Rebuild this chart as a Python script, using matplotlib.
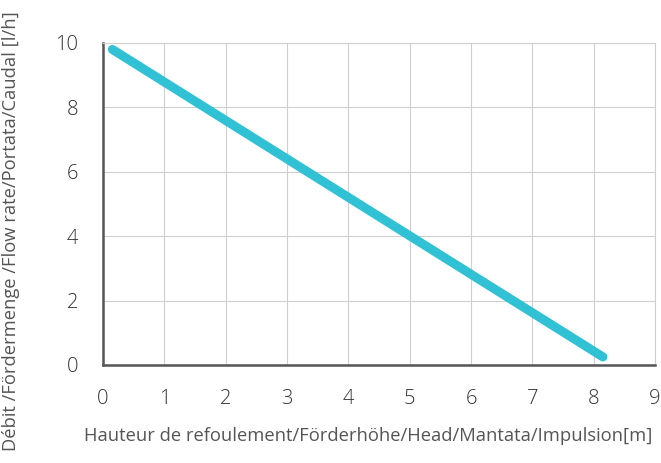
import matplotlib
matplotlib.use("Agg")
import matplotlib.pyplot as plt

# courbe débit / hauteur
head = [0.15, 8.15]
flow = [9.8, 0.25]

x_ticks = list(range(0, 10))
y_ticks = [0, 2, 4, 6, 8, 10]

plt.rcParams['font.family'] = ['Open Sans', 'DejaVu Sans']

fig = plt.figure(figsize=(6.61, 4.63), dpi=100)
ax = fig.add_axes([0.156, 0.2117, 0.835, 0.6955])

ax.plot(head, flow, color="#30c1d5", linewidth=6.5, solid_capstyle="round", zorder=3)

ax.set_xlim(0, 9)
ax.set_ylim(0, 10)
ax.set_xticks(x_ticks)
ax.set_yticks(y_ticks)
ax.grid(True, color="#cfcfcf", linewidth=0.8)
ax.tick_params(length=0, labelsize=14.5, labelcolor="#333333")
ax.tick_params(axis="x", pad=17)
ax.tick_params(axis="y", pad=18)
for lbl in ax.get_xticklabels() + ax.get_yticklabels():
    lbl.set_fontweight("light")

for side in ["top", "right"]:
    ax.spines[side].set_color("#cfcfcf")
    ax.spines[side].set_linewidth(0.8)
for side in ["left", "bottom"]:
    ax.spines[side].set_color("#555555")
    ax.spines[side].set_linewidth(1.8)

fig.text(0.557, 0.058, "Hauteur de refoulement/Förderhöhe/Head/Mantata/Impulsion[m]",
         fontsize=13.2, color="#555555", ha="center", va="center")
fig.text(0.016, 0.5, "Débit /Fördermenge /Flow rate/Portata/Caudal [l/h]",
         rotation=90, fontsize=13.2, color="#555555", ha="center", va="center")

fig.savefig("out.png", dpi=100)
